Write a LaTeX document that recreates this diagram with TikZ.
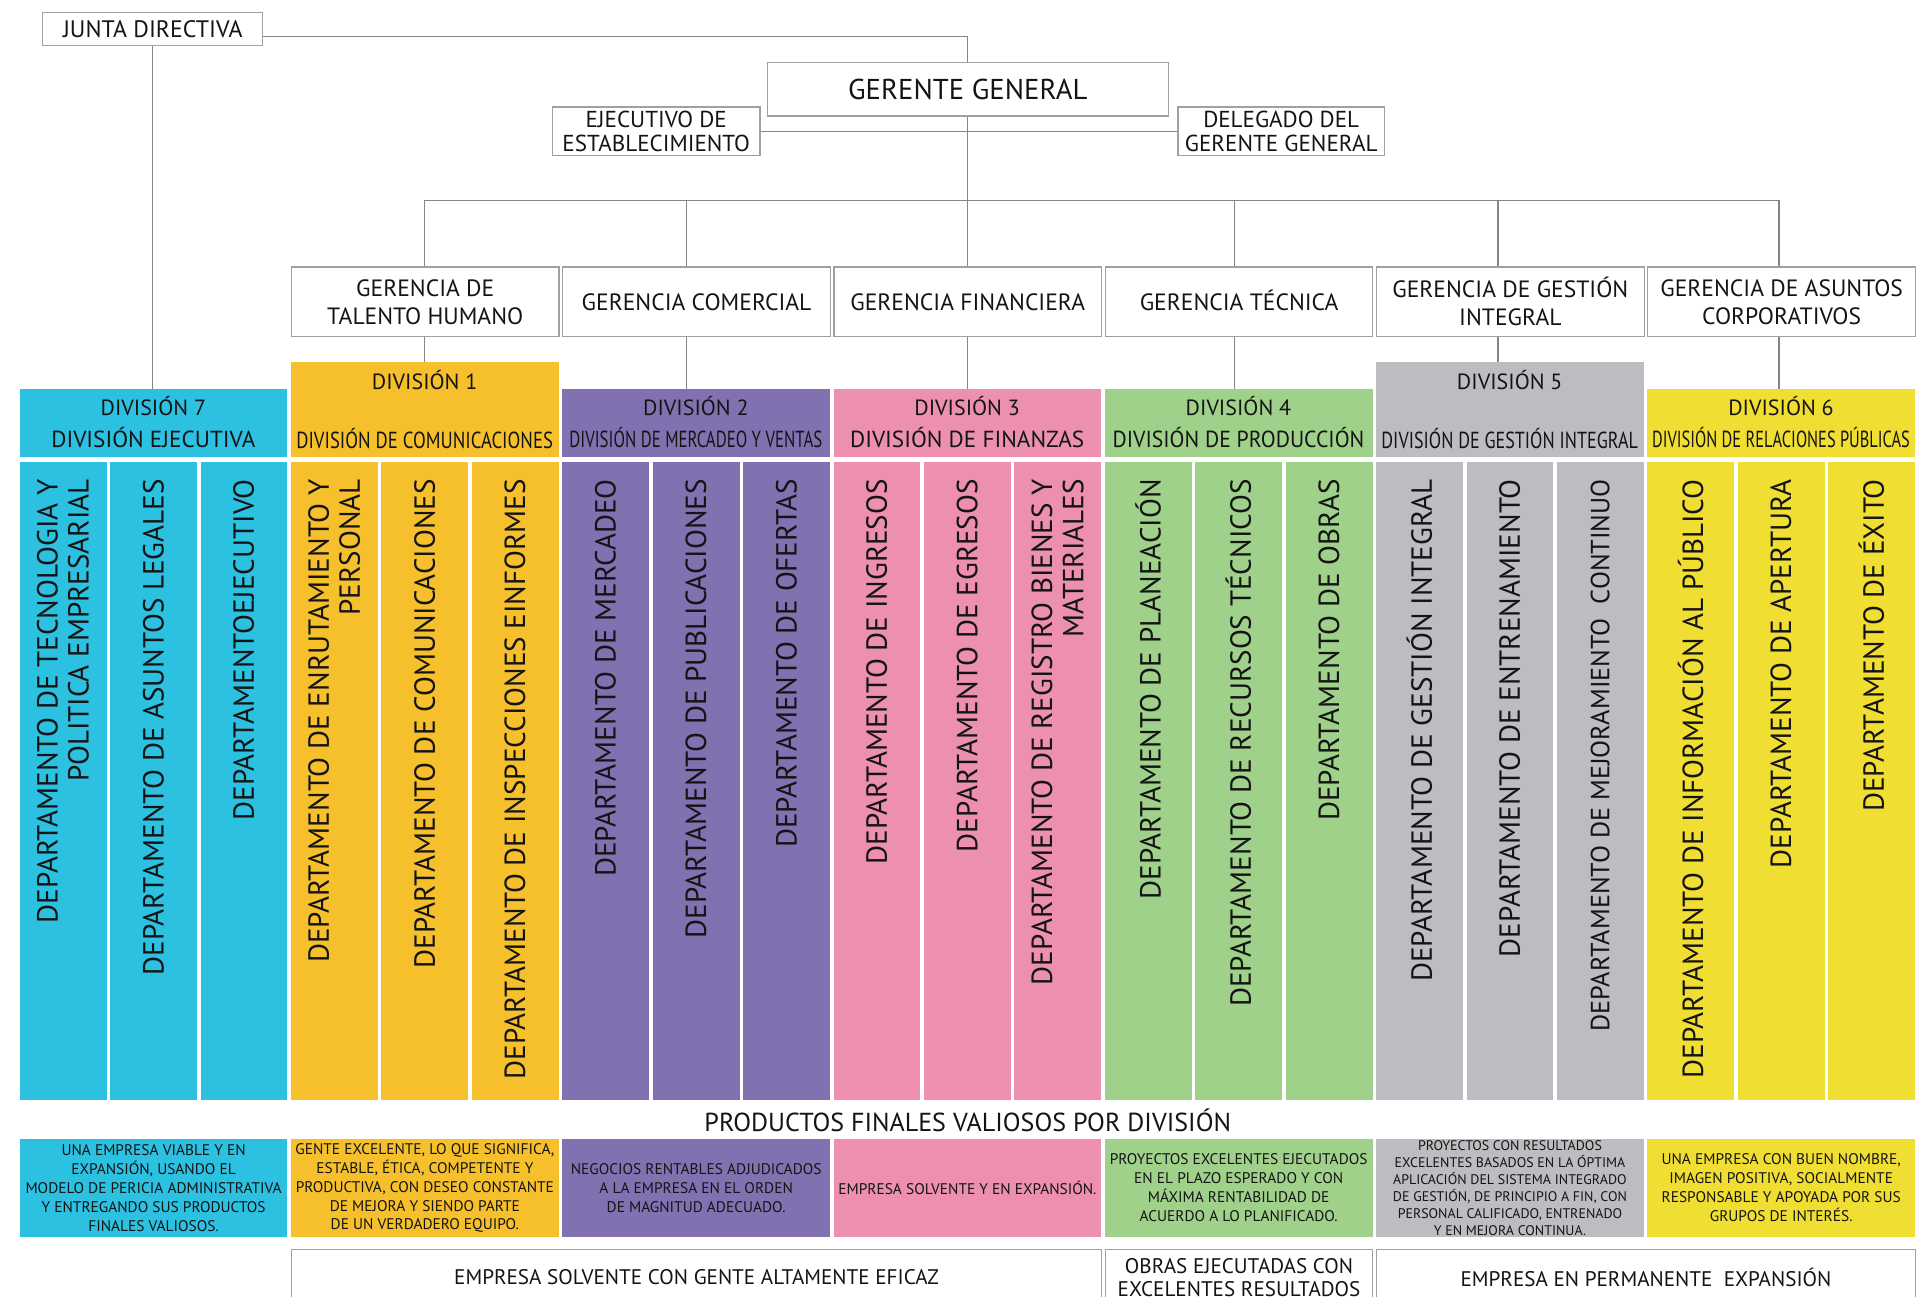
\documentclass[tikz,border=0pt]{standalone}
\usepackage{fontspec}
\setmainfont{PT Sans}
\newfontfamily\condfont{PT Sans}
\usepackage{graphicx}
\usetikzlibrary{calc}
\definecolor{c7}{HTML}{2CC0E1}
\definecolor{c1}{HTML}{F6BF2C}
\definecolor{c2}{HTML}{8171B1}
\definecolor{c3}{HTML}{EC8FB0}
\definecolor{c4}{HTML}{A0D18A}
\definecolor{c5}{HTML}{BCBDC0}
\definecolor{c6}{HTML}{F1DE33}
\definecolor{linegray}{HTML}{858585}
\definecolor{boxgray}{HTML}{A0A0A0}
\definecolor{txt}{HTML}{141414}
\newcommand\fs[2]{\fontsize{#1}{#2}\selectfont}
\newcommand\fitw[2]{\sbox0{#2}\ifdim\wd0>#1\relax\pgfmathsetmacro\fitr{#1/\the\wd0}\scalebox{\fitr}[1]{\usebox0}\else\usebox0\fi}
\newcommand\dept[5]{%
  \node[deptbox,fill=#3] (#1) at (#2,378) {};
  \node[depttext,font=#4] (#1t) at (#2+35.5,392) {#5};}
\tikzset{
  wbox/.style={draw=boxgray, line width=1pt, fill=white, inner sep=0pt, align=center, text=txt},
  conn/.style={draw=linegray, line width=1.1pt},
  fillbox/.style={anchor=north west, inner sep=0pt, draw=none},
  deptbox/.style={anchor=north west, inner sep=0pt, draw=none, minimum width=71, minimum height=522},
  depttext/.style={rotate=90, anchor=east, align=right, inner sep=0pt, text=txt},
  divt/.style={inner sep=0pt, text=txt, font=\fs{18}{21}},
  divs/.style={inner sep=0pt, text=txt, font=\fs{19}{22}},
  gbox/.style={wbox, anchor=north west, minimum width=219, minimum height=57, font=\fs{19.3}{23}},
  hbox/.style={fillbox, minimum width=219},
  pbox/.style={fillbox, minimum width=219, minimum height=80, align=center, text=txt, font=\condfont\fs{12.6}{15.5}},
  bbox/.style={wbox, anchor=north west, minimum height=46, font=\fs{17.3}{19.5}},
}
\begin{document}
\begin{tikzpicture}[x=1pt,y=-1pt]
\path[use as bounding box] (0,0) rectangle (1568,1061);
\clip (0,0) rectangle (1568,1061);
\fill[white] (0,0) rectangle (1568,1061);

% top level
\node[wbox, minimum width=180, minimum height=27, font=\fs{19.5}{22}] (junta) at (125,23.5) {JUNTA DIRECTIVA};
\node[wbox, minimum width=328, minimum height=44, font=\fs{23.5}{26}] (gg) at (792,73) {GERENTE GENERAL};
\node[wbox, minimum width=170, minimum height=40, font=\fs{18.9}{19.5}] (ee) at (537,107.5) {EJECUTIVO DE\\ESTABLECIMIENTO};
\node[wbox, minimum width=169, minimum height=40, font=\fs{18.9}{19.5}] (dg) at (1048.5,107.5) {DELEGADO DEL\\GERENTE GENERAL};

% gerencias
\node[gbox] (gth) at (238,218) {GERENCIA DE\\TALENTO HUMANO};
\node[gbox] (gc) at (460,218) {GERENCIA COMERCIAL};
\node[gbox] (gf) at (682,218) {GERENCIA FINANCIERA};
\node[gbox] (gt) at (904,218) {GERENCIA T\smash{É}CNICA};
\node[gbox] (gg2) at (1126,218) {GERENCIA DE GESTIÓN\\INTEGRAL};
\node[gbox] (gac) at (1348,218) {GERENCIA DE ASUNTOS\\CORPORATIVOS};

% division headers
\node[hbox,fill=c7,minimum height=56] (d7) at (16,318) {};
\node[divt] (d7a) at (125.5,332) {DIVISIÓN 7};
\node[divs] (d7b) at (125.5,358) {\fitw{210pt}{DIVISIÓN EJECUTIVA}};
\node[hbox,fill=c1,minimum height=78] (d1) at (238,296) {};
\node[divt] (d1a) at (347.5,311) {DIVISIÓN 1};
\node[divs] (d1b) at (347.5,359) {\fitw{210pt}{DIVISIÓN DE COMUNICACIONES}};
\node[hbox,fill=c2,minimum height=56] (d2) at (460,318) {};
\node[divt] (d2a) at (569.5,332) {DIVISIÓN 2};
\node[divs] (d2b) at (569.5,358) {\fitw{207pt}{DIVISIÓN DE MERCADEO Y VENTAS}};
\node[hbox,fill=c3,minimum height=56] (d3) at (682,318) {};
\node[divt] (d3a) at (791.5,332) {DIVISIÓN 3};
\node[divs] (d3b) at (791.5,358) {\fitw{210pt}{DIVISIÓN DE FINANZAS}};
\node[hbox,fill=c4,minimum height=56] (d4) at (904,318) {};
\node[divt] (d4a) at (1013.5,332) {DIVISIÓN 4};
\node[divs] (d4b) at (1013.5,358) {\fitw{206pt}{DIVISIÓN DE PRODUCCIÓN}};
\node[hbox,fill=c5,minimum height=78] (d5) at (1126,296) {};
\node[divt] (d5a) at (1235.5,311) {DIVISIÓN 5};
\node[divs] (d5b) at (1235.5,359) {\fitw{210pt}{DIVISIÓN DE GESTIÓN INTEGRAL}};
\node[hbox,fill=c6,minimum height=56] (d6) at (1348,318) {};
\node[divt] (d6a) at (1457.5,332) {DIVISIÓN 6};
\node[divs] (d6b) at (1457.5,358) {\fitw{211pt}{DIVISIÓN DE RELACIONES PÚBLICAS}};

% connectors
\coordinate (jl) at ($(junta.east)+(0,6.5)$);
\coordinate (bus) at (0,164);
\coordinate (xa) at (347.5,0);
\coordinate (xb) at (562,0);
\coordinate (xd) at (1010,0);
\coordinate (xe) at (1226,0);
\coordinate (xf) at (1456,0);
\draw[conn] (jl) -| (gg.north);
\draw[conn] (junta.south) -- (junta.south |- d7.north);
\draw[conn] (ee.east) -- (dg.west);
\draw[conn] (gg.south) -- (gf.north);
\draw[conn] (xa |- gth.north) -- (xa |- bus) -- (xf |- bus) -- (xf |- gac.north);
\draw[conn] (xb |- bus) -- (xb |- gc.north);
\draw[conn] (xd |- bus) -- (xd |- gt.north);
\draw[conn] (xe |- bus) -- (xe |- gg2.north);
\draw[conn] (xa |- gth.south) -- (xa |- d1.north);
\draw[conn] (xb |- gc.south) -- (xb |- d2.north);
\draw[conn] (gf.south) -- (gf.south |- d3.north);
\draw[conn] (xd |- gt.south) -- (xd |- d4.north);
\draw[conn] (xe |- gg2.south) -- (xe |- d5.north);
\draw[conn] (xf |- gac.south) -- (xf |- d6.north);

% departments
\def\df{\fs{23.8}{25.5}}
\dept{e1}{16}{c7}{\df}{DEPARTAMENTO DE TECNOLOGIA Y\\POLITICA EMPRESARIAL}
\dept{e2}{90}{c7}{\df}{DEPARTAMENTO DE ASUNTOS LEGALES}
\dept{e3}{164}{c7}{\df}{DEPARTAMENTOEJECUTIVO}
\dept{a1}{238}{c1}{\df}{DEPARTAMENTO DE ENRUTAMIENTO Y\\PERSONAL}
\dept{a2}{312}{c1}{\df}{DEPARTAMENTO DE COMUNICACIONES}
\dept{a3}{386}{c1}{\df}{DEPARTAMENTO DE INSPECCIONES EINFORMES}
\dept{b1}{460}{c2}{\df}{DEPARTAMENTO DE MERCADEO}
\dept{b2}{534}{c2}{\df}{DEPARTAMENTO DE PUBLICACIONES}
\dept{b3}{608}{c2}{\df}{DEPARTAMENTO DE OFERTAS}
\dept{f1}{682}{c3}{\df}{DEPARTAMENTO DE INGRESOS}
\dept{f2}{756}{c3}{\df}{DEPARTAMENTO DE EGRESOS}
\dept{f3}{830}{c3}{\df}{DEPARTAMENTO DE REGISTRO BIENES Y\\MATERIALES}
\dept{t1}{904}{c4}{\df}{DEPARTAMENTO DE PLANEACIÓN}
\dept{t2}{978}{c4}{\df}{DEPARTAMENTO DE RECURSOS TÉCNICOS}
\dept{t3}{1052}{c4}{\df}{DEPARTAMENTO DE OBRAS}
\dept{g1}{1126}{c5}{\df}{DEPARTAMENTO DE GESTIÓN INTEGRAL}
\dept{g2}{1200}{c5}{\df}{DEPARTAMENTO DE ENTRENAMIENTO}
\dept{g3}{1274}{c5}{\fs{21.5}{23}}{DEPARTAMENTO DE MEJORAMIENTO\ \ CONTINUO}
\dept{r1}{1348}{c6}{\df}{DEPARTAMENTO DE INFORMACIÓN AL PÚBLICO}
\dept{r2}{1422}{c6}{\df}{DEPARTAMENTO DE APERTURA}
\dept{r3}{1496}{c6}{\df}{DEPARTAMENTO DE ÉXITO}

% products
\node[inner sep=0pt, text=txt, font=\fs{21.3}{23}] (ptitle) at (792,917) {PRODUCTOS FINALES VALIOSOS POR DIVISIÓN};
\node[pbox,fill=c7] (p7) at (16,932) {UNA EMPRESA VIABLE Y EN\\EXPANSIÓN, USANDO EL\\MODELO DE PERICIA ADMINISTRATIVA\\Y ENTREGANDO SUS PRODUCTOS\\FINALES VALIOSOS.};
\node[pbox,fill=c1] (p1) at (238,932) {GENTE EXCELENTE, LO QUE SIGNIFICA,\\ESTABLE, ÉTICA, COMPETENTE Y\\PRODUCTIVA, CON DESEO CONSTANTE\\DE MEJORA Y SIENDO PARTE\\DE UN VERDADERO EQUIPO.};
\node[pbox,fill=c2] (p2) at (460,932) {NEGOCIOS RENTABLES ADJUDICADOS\\A LA EMPRESA EN EL ORDEN\\DE MAGNITUD ADECUADO.};
\node[pbox,fill=c3] (p3) at (682,932) {EMPRESA SOLVENTE Y EN EXPANSIÓN.};
\node[pbox,fill=c4] (p4) at (904,932) {PROYECTOS EXCELENTES EJECUTADOS\\EN EL PLAZO ESPERADO Y CON\\MÁXIMA RENTABILIDAD DE\\ACUERDO A LO PLANIFICADO.};
\node[pbox,fill=c5,font=\condfont\fs{11.4}{14}] (p5) at (1126,932) {PROYECTOS CON RESULTADOS\\EXCELENTES BASADOS EN LA ÓPTIMA\\APLICACIÓN DEL SISTEMA INTEGRADO\\DE GESTIÓN, DE PRINCIPIO A FIN, CON\\PERSONAL CALIFICADO, ENTRENADO\\Y EN MEJORA CONTINUA.};
\node[pbox,fill=c6] (p6) at (1348,932) {UNA EMPRESA CON BUEN NOMBRE,\\IMAGEN POSITIVA, SOCIALMENTE\\RESPONSABLE Y APOYADA POR SUS\\GRUPOS DE INTERÉS.};

% bottom results
\node[bbox, minimum width=663] (r1) at (238,1022) {EMPRESA SOLVENTE CON GENTE ALTAMENTE EFICAZ};
\node[bbox, minimum width=219] (r2) at (904,1022) {OBRAS EJECUTADAS CON\\EXCELENTES RESULTADOS};
\node[bbox, minimum width=441] (r3) at (1126,1022) {EMPRESA EN PERMANENTE\ \ EXPANSIÓN};
\end{tikzpicture}
\end{document}
